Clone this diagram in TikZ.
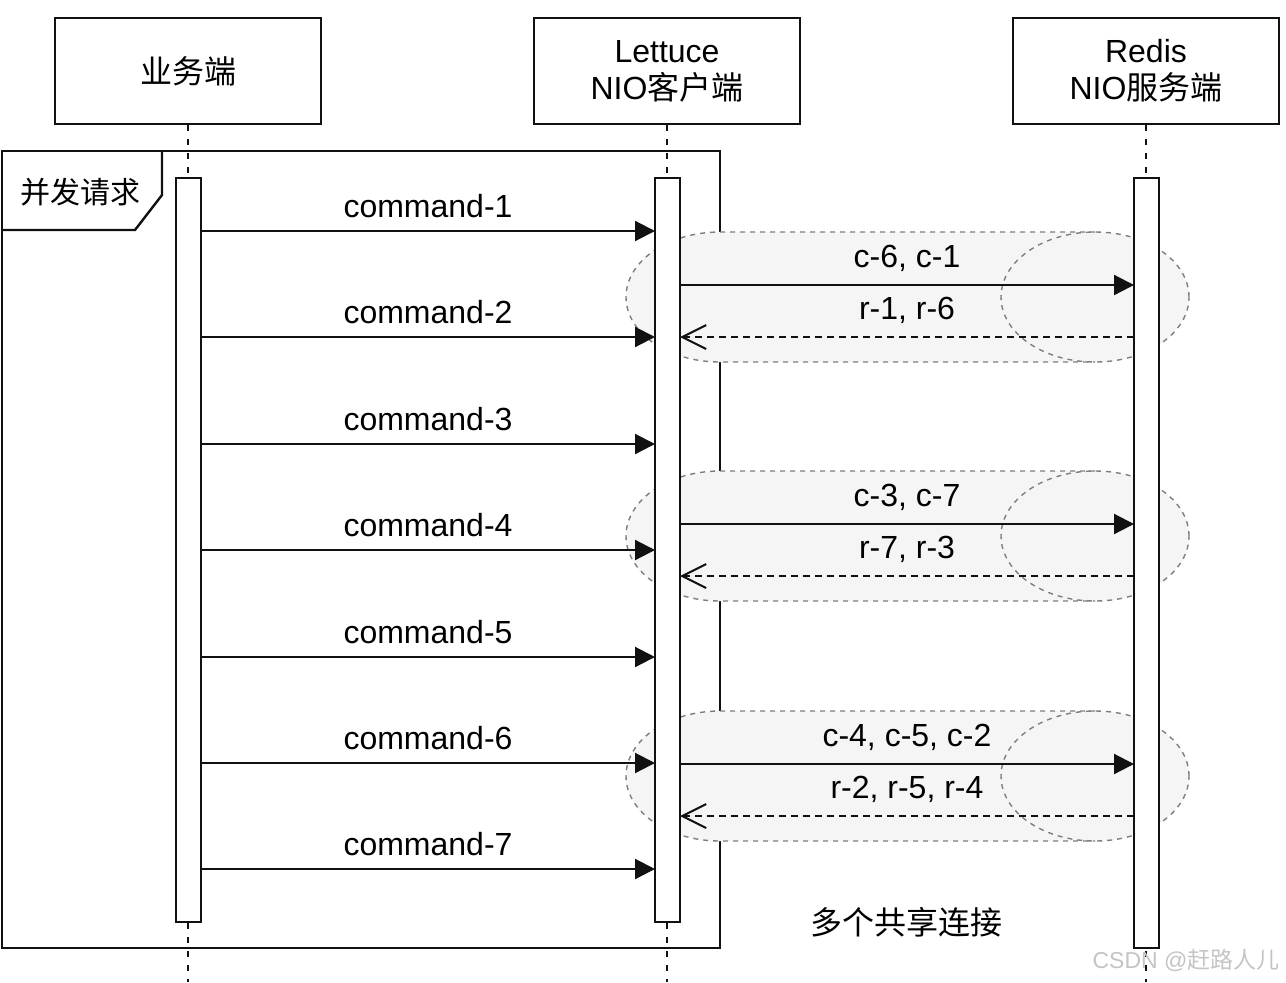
\documentclass[tikz,border=0pt]{standalone}
\usepackage{fontspec}
\setmainfont{Liberation Sans}
\newfontfamily\cjk{Noto Sans CJK SC}
\usepackage{tikz}
\usetikzlibrary{positioning,arrows.meta}
\definecolor{ink}{HTML}{111111}
\definecolor{grpline}{HTML}{7E7E7E}
\definecolor{grpbg}{HTML}{F5F5F5}
\definecolor{wmark}{HTML}{C4C4C4}
\tikzset{
  actor/.style={rectangle,draw=ink,fill=white,line width=1.2pt,
    minimum width=133pt,minimum height=53pt,align=center,
    font=\fontsize{16}{18.5}\selectfont},
  actbar/.style={rectangle,draw=ink,fill=white,line width=1.1pt,
    minimum width=12.5pt,inner sep=0pt,outer sep=0pt},
  life/.style={draw=ink,line width=0.9pt,dash pattern=on 3pt off 4pt},
  msg/.style={-{Triangle[length=10pt,width=10pt]},line width=1.1pt,draw=ink},
  ret/.style={-{Straight Barb[length=12pt,width=12pt]},line width=1pt,
    draw=ink,dash pattern=on 3.5pt off 2.5pt},
  lbl/.style={above=5pt,inner sep=1pt,font=\fontsize{16}{18.5}\selectfont},
  grp/.style={draw=grpline,line width=0.7pt,dash pattern=on 2.5pt off 2.5pt},
}

\begin{document}
\begin{tikzpicture}[x=0.5pt,y=-0.5pt]
  \useasboundingbox (0,0) rectangle (1286,982);
  % frame
  \draw[draw=ink,line width=1.2pt] (2,151) rectangle (720,948);
  \draw[draw=ink,line width=1.2pt] (2,230) -- (135,230) -- (162,195) -- (162,151);
  \node[font=\cjk\fontsize{15}{18}\selectfont] (frametag) at (80,192) {并发请求};
  % shared connections
  \foreach \t in {232,471,711} {
    \fill[grpbg] (720,\t) -- (1095,\t) arc[start angle=90,end angle=-90,x radius=47pt,y radius=32.5pt]
      -- (720,\t+130) arc[start angle=270,end angle=90,x radius=47pt,y radius=32.5pt] -- cycle;
    \draw[grp] (1095,\t) -- (720,\t) arc[start angle=90,end angle=270,x radius=47pt,y radius=32.5pt]
      -- (1095,\t+130);
    \draw[grp] (1095,\t+65) ellipse[x radius=47pt,y radius=32.5pt];
  }
  % actors
  \node[actor] (biz) at (188,71) {\cjk 业务端};
  \node[actor] (lettuce) at (667,71) {Lettuce\\NIO{\cjk 客户端}};
  \node[actor] (redis) at (1146,71) {Redis\\NIO{\cjk 服务端}};
  \coordinate (bizend) at (188,982);
  \coordinate (letend) at (667,982);
  \coordinate (redend) at (1146,982);
  \draw[life] (biz.south) -- (bizend);
  \draw[life] (lettuce.south) -- (letend);
  \draw[life] (redis.south) -- (redend);
  % activations
  \node[actbar,minimum height=372pt] (bizbar) at (188.5,550) {};
  \node[actbar,minimum height=372pt] (letbar) at (667.5,550) {};
  \node[actbar,minimum height=385pt] (redbar) at (1146.5,563) {};
  % commands
  \foreach \i/\y in {1/231,2/337,3/444,4/550,5/657,6/763,7/869} {
    \coordinate (cb\i) at (201,\y);
    \coordinate (cl\i) at (655,\y);
    \draw[msg] (cb\i) -- node[lbl] {command-\i} (cl\i);
  }
  % requests and replies
  \foreach \t/\cl/\rl [count=\k] in {232/{c-6, c-1}/{r-1, r-6},471/{c-3, c-7}/{r-7, r-3},711/{c-4, c-5, c-2}/{r-2, r-5, r-4}} {
    \coordinate (sl\k) at (680,\t+53);
    \coordinate (sr\k) at (1134,\t+53);
    \coordinate (rr\k) at (1134,\t+105);
    \coordinate (rl\k) at (680,\t+105);
    \draw[msg] (sl\k) -- node[lbl] {\cl} (sr\k);
    \draw[ret] (rr\k) -- node[lbl] {\rl} (rl\k);
  }
  \node[font=\cjk\fontsize{16}{18.5}\selectfont] (shared) at (906,922) {多个共享连接};
  \node[text=wmark,font=\fontsize{11.5}{14}\selectfont] (mark) at (1186,960) {CSDN @{\cjk 赶路人儿}};
\end{tikzpicture}
\end{document}
